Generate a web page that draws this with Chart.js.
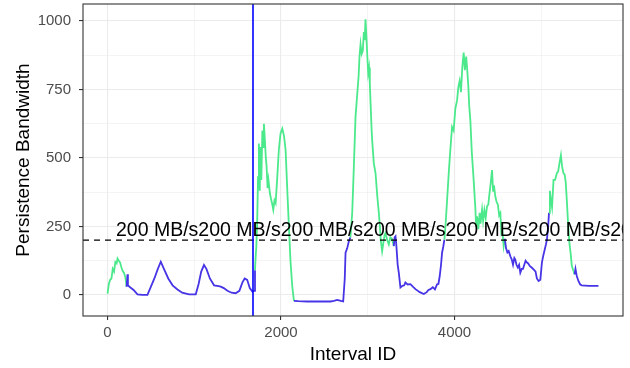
<!DOCTYPE html>
<html>
<head>
<meta charset="utf-8">
<script src="https://cdn.jsdelivr.net/npm/chart.js@4"></script>
<style>
  body { margin: 0; background: #fff; }
  canvas { display: block; }
</style>
</head>
<body>
<canvas id="grafico" width="630" height="368"></canvas>
<script>
// interval ids and bandwidth
const intervalIds = [
  0, 15, 30, 45, 60, 75, 90, 105, 115, 130, 145, 160, 175, 190, 205, 220, 230, 235, 260, 300,
  345, 400, 460, 500, 540, 580, 614, 650, 700, 750, 806, 860, 940, 1017, 1050, 1080, 1112, 1140, 1180, 1228,
  1265, 1305, 1340, 1382, 1430, 1477, 1520, 1554, 1581, 1610, 1640, 1670, 1690, 1700, 1708, 1715, 1725, 1735, 1745, 1755,
  1763, 1773, 1785, 1795, 1803, 1815, 1825, 1834, 1845, 1855, 1872, 1885, 1900, 1911, 1925, 1938, 1955, 1975, 1995, 2015,
  2035, 2053, 2070, 2091, 2110, 2130, 2149, 2200, 2300, 2400, 2500, 2571, 2610, 2648, 2690, 2717, 2735, 2744, 2763, 2782,
  2800, 2821, 2840, 2859, 2879, 2895, 2905, 2917, 2930, 2943, 2955, 2965, 2974, 2985, 2994, 3005, 3015, 3024, 3035, 3045,
  3051, 3070, 3090, 3110, 3128, 3140, 3150, 3166, 3180, 3195, 3205, 3225, 3243, 3260, 3280, 3300, 3310, 3320, 3330, 3345,
  3358, 3377, 3400, 3420, 3434, 3460, 3492, 3520, 3550, 3600, 3646, 3680, 3700, 3723, 3750, 3775, 3800, 3815, 3830, 3845,
  3857, 3870, 3884, 3900, 3915, 3935, 3950, 3972, 3990, 4010, 4030, 4045, 4060, 4075, 4090, 4106, 4120, 4135, 4145, 4160,
  4170, 4183, 4200, 4221, 4240, 4250, 4260, 4275, 4290, 4300, 4318, 4330, 4345, 4360, 4375, 4390, 4400, 4415, 4433, 4445,
  4455, 4471, 4485, 4500, 4515, 4529, 4540, 4550, 4567, 4580, 4595, 4610, 4625, 4644, 4660, 4675, 4690, 4701, 4715, 4730,
  4745, 4759, 4775, 4790, 4805, 4820, 4836, 4850, 4870, 4890, 4912, 4935, 4950, 4970, 4990, 5008, 5025, 5040, 5055, 5066,
  5080, 5090, 5100, 5112, 5125, 5142, 5160, 5180, 5195, 5210, 5227, 5240, 5257, 5270, 5283, 5295, 5310, 5325, 5340, 5353,
  5370, 5385, 5395, 5410, 5430, 5450, 5468, 5550, 5660
];
const bandwidth = [
  5, 40, 55, 60, 95, 85, 120, 115, 133, 125, 118, 100, 87, 80, 65, 30, 75, 35, 28, 18,
  2, 0, 0, 30, 60, 95, 121, 95, 60, 35, 20, 8, 2, 2, 40, 85, 109, 95, 60, 35,
  33, 30, 25, 15, 8, 6, 15, 45, 60, 55, 25, 12, 15, 90, 141, 175, 260, 430, 553, 380,
  540, 420, 600, 540, 625, 560, 500, 468, 390, 420, 371, 350, 330, 311, 345, 335, 420, 530, 590, 607,
  580, 528, 400, 250, 120, 30, -22, -23, -24, -24, -24, -24, -22, -18, -22, -24, 60, 154, 170, 196,
  210, 299, 470, 649, 734, 800, 870, 915, 880, 891, 960, 930, 1006, 940, 879, 810, 830, 770, 680, 600,
  565, 480, 444, 360, 299, 250, 200, 160, 190, 220, 226, 200, 184, 210, 205, 178, 210, 214, 180, 110,
  81, 27, 33, 35, 45, 38, 39, 30, 21, 10, 3, 10, 18, 21, 28, 20, 39, 40, 69, 110,
  154, 175, 202, 270, 347, 450, 520, 613, 600, 680, 710, 760, 782, 740, 830, 885, 820, 870, 831, 760,
  690, 637, 520, 420, 320, 250, 287, 240, 300, 260, 311, 270, 310, 280, 323, 330, 360, 400, 456, 380,
  400, 359, 340, 330, 290, 299, 230, 240, 178, 205, 170, 155, 160, 141, 130, 110, 135, 129, 110, 100,
  110, 81, 95, 95, 110, 125, 118, 115, 105, 100, 93, 85, 60, 51, 55, 118, 145, 165, 185, 202,
  250, 300, 380, 347, 320, 420, 420, 444, 450, 480, 510, 470, 444, 440, 410, 347, 260, 190, 150, 105,
  90, 75, 95, 69, 50, 38, 35, 33, 33
];
// stretches drawn in green (start, end interval)
const greenRanges = [[0, 215], [1700, 2149], [2790, 3290], [3880, 4570], [5090, 5385]];

const xTicks = [0, 1000, 2000, 3000, 4000, 5000];
const xMajor = [0, 2000, 4000];
const yTicks = [0, 125, 250, 375, 500, 625, 750, 875, 1000];
const yMajor = [0, 250, 500, 750, 1000];

const thresholdValue = 200;
const thresholdLabel = '200 MB/s';
const labelStart = 97;
const markerInterval = 1677;

const verde = '#4be98b';
const azul = '#4634e6';

function isGreen(x) {
  return greenRanges.some(r => x >= r[0] && x < r[1]);
}

const pontos = intervalIds.map((x, i) => ({ x: x, y: bandwidth[i] }));

const extras = {
  id: 'extras',
  afterDatasetsDraw(chart) {
    const { ctx, chartArea: a, scales } = chart;
    const yT = scales.y.getPixelForValue(thresholdValue);
    const xV = scales.x.getPixelForValue(markerInterval);
    ctx.save();
    ctx.beginPath();
    ctx.rect(a.left, a.top, a.right - a.left, a.bottom - a.top);
    ctx.clip();
    // dashed threshold
    ctx.strokeStyle = '#000';
    ctx.lineWidth = 1.4;
    ctx.setLineDash([6, 5]);
    ctx.beginPath();
    ctx.moveTo(a.left, yT);
    ctx.lineTo(a.right, yT);
    ctx.stroke();
    ctx.setLineDash([]);
    // vertical marker
    ctx.strokeStyle = '#0000ff';
    ctx.lineWidth = 1.6;
    ctx.beginPath();
    ctx.moveTo(xV, a.top);
    ctx.lineTo(xV, a.bottom);
    ctx.stroke();
    // repeated labels
    ctx.fillStyle = '#000';
    ctx.font = '19.5px "Liberation Sans", Arial, sans-serif';
    ctx.textBaseline = 'alphabetic';
    const w = ctx.measureText(thresholdLabel).width;
    let px = scales.x.getPixelForValue(labelStart);
    while (px < a.right) {
      ctx.fillText(thresholdLabel, px, yT - 4);
      px += w;
    }
    ctx.restore();
    // panel border
    ctx.save();
    ctx.strokeStyle = '#333333';
    ctx.lineWidth = 1.1;
    ctx.strokeRect(a.left, a.top, a.right - a.left, a.bottom - a.top);
    ctx.restore();
  }
};

const tickFont = { family: '"Liberation Sans", Arial, sans-serif', size: 15 };
const titleFont = { family: '"Liberation Sans", Arial, sans-serif', size: 19 };

new Chart(document.getElementById('grafico').getContext('2d'), {
  type: 'line',
  data: {
    datasets: [{
      data: pontos,
      borderWidth: 1.8,
      pointRadius: 0,
      tension: 0,
      segment: {
        borderColor: c => isGreen(c.p0.parsed.x) ? verde : azul
      }
    }]
  },
  options: {
    responsive: false,
    animation: false,
    layout: { padding: { top: 4, right: 7, left: 0, bottom: 0 } },
    plugins: { legend: { display: false }, tooltip: { enabled: false } },
    scales: {
      x: {
        type: 'linear',
        min: -283,
        max: 5943,
        afterBuildTicks: s => { s.ticks = xTicks.map(v => ({ value: v })); },
        afterFit: s => { s.height = 52; s.paddingLeft = 0; s.paddingRight = 0; },
        border: { display: false },
        grid: {
          color: '#ebebeb',
          lineWidth: c => xMajor.includes(c.tick.value) ? 1.1 : 0.55,
          tickLength: 4,
          tickWidth: 1.1,
          tickColor: c => xMajor.includes(c.tick.value) ? '#333333' : 'rgba(0,0,0,0)'
        },
        ticks: {
          color: '#4d4d4d',
          font: tickFont,
          padding: 4,
          maxRotation: 0,
          callback: v => xMajor.includes(v) ? String(v) : ''
        },
        title: { display: true, text: 'Interval ID', color: '#000', font: titleFont, padding: { top: 0, bottom: 2 } }
      },
      y: {
        min: -77,
        max: 1062,
        afterBuildTicks: s => { s.ticks = yTicks.map(v => ({ value: v })); },
        afterFit: s => { s.width = 83; s.paddingTop = 0; s.paddingBottom = 0; },
        border: { display: false },
        grid: {
          color: '#ebebeb',
          lineWidth: c => yMajor.includes(c.tick.value) ? 1.1 : 0.55,
          tickLength: 4,
          tickWidth: 1.1,
          tickColor: c => yMajor.includes(c.tick.value) ? '#333333' : 'rgba(0,0,0,0)'
        },
        ticks: {
          color: '#4d4d4d',
          font: tickFont,
          padding: 8,
          callback: v => yMajor.includes(v) ? String(v) : ''
        },
        title: { display: true, text: 'Persistence Bandwidth', color: '#000', font: titleFont, padding: { top: 12, bottom: 4 } }
      }
    }
  },
  plugins: [extras]
});
</script>
</body>
</html>
